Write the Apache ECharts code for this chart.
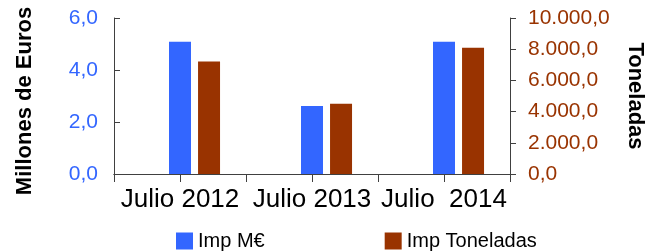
<!DOCTYPE html>
<html>
<head>
<meta charset="utf-8">
<script src="https://cdn.jsdelivr.net/npm/echarts@6/dist/echarts.min.js"></script>
<style>
html,body{margin:0;padding:0;background:#fff;}
#container{width:658px;height:251px;}
</style>
</head>
<body>
<div id="container"></div>
<script>
var categories = ['Julio 2012', 'Julio 2013', 'Julio  2014']
var impEuros = [5.09, 2.62, 5.09]
var impToneladas = [7210, 4496, 8093]
var leftTicks = [0, 2, 4, 6]
var rightTicks = [0, 2000, 4000, 6000, 8000, 10000]

var myChart = echarts.init(document.getElementById('container'))

function fmtLeft(v){
    return v.toFixed(1).replace('.', ',')
}
function fmtRight(v){
    var s = Math.round(v).toString().replace(/\B(?=(\d{3})+(?!\d))/g, '.')
    return s + ',0'
}

var axisColor = '#404040'
var font = 'Liberation Sans, Arial, sans-serif'

var option = {
    animation: false,
    textStyle: { fontFamily: font },
    grid: { left: 114, right: 148, top: 18, bottom: 77, containLabel: false, outerBoundsMode: 'none' },
    legend: {
        data: ['Imp M€', 'Imp Toneladas'],
        left: 176, top: 231,
        itemWidth: 17, itemHeight: 17, itemGap: 120,
        icon: 'rect',
        padding: 0,
        textStyle: { fontSize: 20, color: '#000', fontFamily: font }
    },
    xAxis: [{
        type: 'category',
        data: categories,
        axisLine: { lineStyle: { color: axisColor, width: 1 } },
        axisTick: { show: false },
        axisLabel: { fontSize: 26, color: '#000', margin: 13, interval: 0 }
    },{
        type: 'category',
        data: ['', '', '', '', '', ''],
        position: 'bottom',
        axisLine: { lineStyle: { color: axisColor, width: 1 } },
        axisTick: { show: true, length: 8, lineStyle: { color: axisColor } },
        axisLabel: { show: false }
    }],
    yAxis: [{
        type: 'value',
        min: leftTicks[0], max: leftTicks[leftTicks.length - 1], interval: 2,
        name: 'Millones de Euros',
        nameLocation: 'middle', nameGap: 78, nameRotate: 90,
        nameTextStyle: { fontSize: 22, fontWeight: 'bold', color: '#000', padding: [0, 10, 0, 0] },
        splitLine: { show: false },
        axisLine: { show: true, lineStyle: { color: axisColor } },
        axisTick: { show: true, inside: true, length: 6, lineStyle: { color: axisColor } },
        axisLabel: { fontSize: 21, color: '#3366FF', margin: 16, formatter: fmtLeft }
    },{
        type: 'value',
        position: 'right',
        min: rightTicks[0], max: rightTicks[rightTicks.length - 1], interval: 2000,
        name: 'Toneladas',
        nameLocation: 'middle', nameGap: 114, nameRotate: -90,
        nameTextStyle: { fontSize: 22, fontWeight: 'bold', color: '#000' },
        splitLine: { show: false },
        axisLine: { show: true, lineStyle: { color: axisColor } },
        axisTick: { show: true, length: 6, lineStyle: { color: axisColor } },
        axisLabel: { fontSize: 21, color: '#993300', margin: 18, formatter: fmtRight }
    }],
    series: [{
        name: 'spacer',
        type: 'bar',
        yAxisIndex: 0,
        data: [null, null, null],
        barWidth: 22,
        barGap: '32%'
    },{
        name: 'Imp M€',
        type: 'bar',
        yAxisIndex: 0,
        data: impEuros,
        barWidth: 22,
        barGap: '32%',
        itemStyle: { color: '#3366FF' }
    },{
        name: 'Imp Toneladas',
        type: 'bar',
        yAxisIndex: 1,
        data: impToneladas,
        barWidth: 22,
        barGap: '32%',
        itemStyle: { color: '#993300' }
    }]
}
myChart.setOption(option)
</script>
</body>
</html>
